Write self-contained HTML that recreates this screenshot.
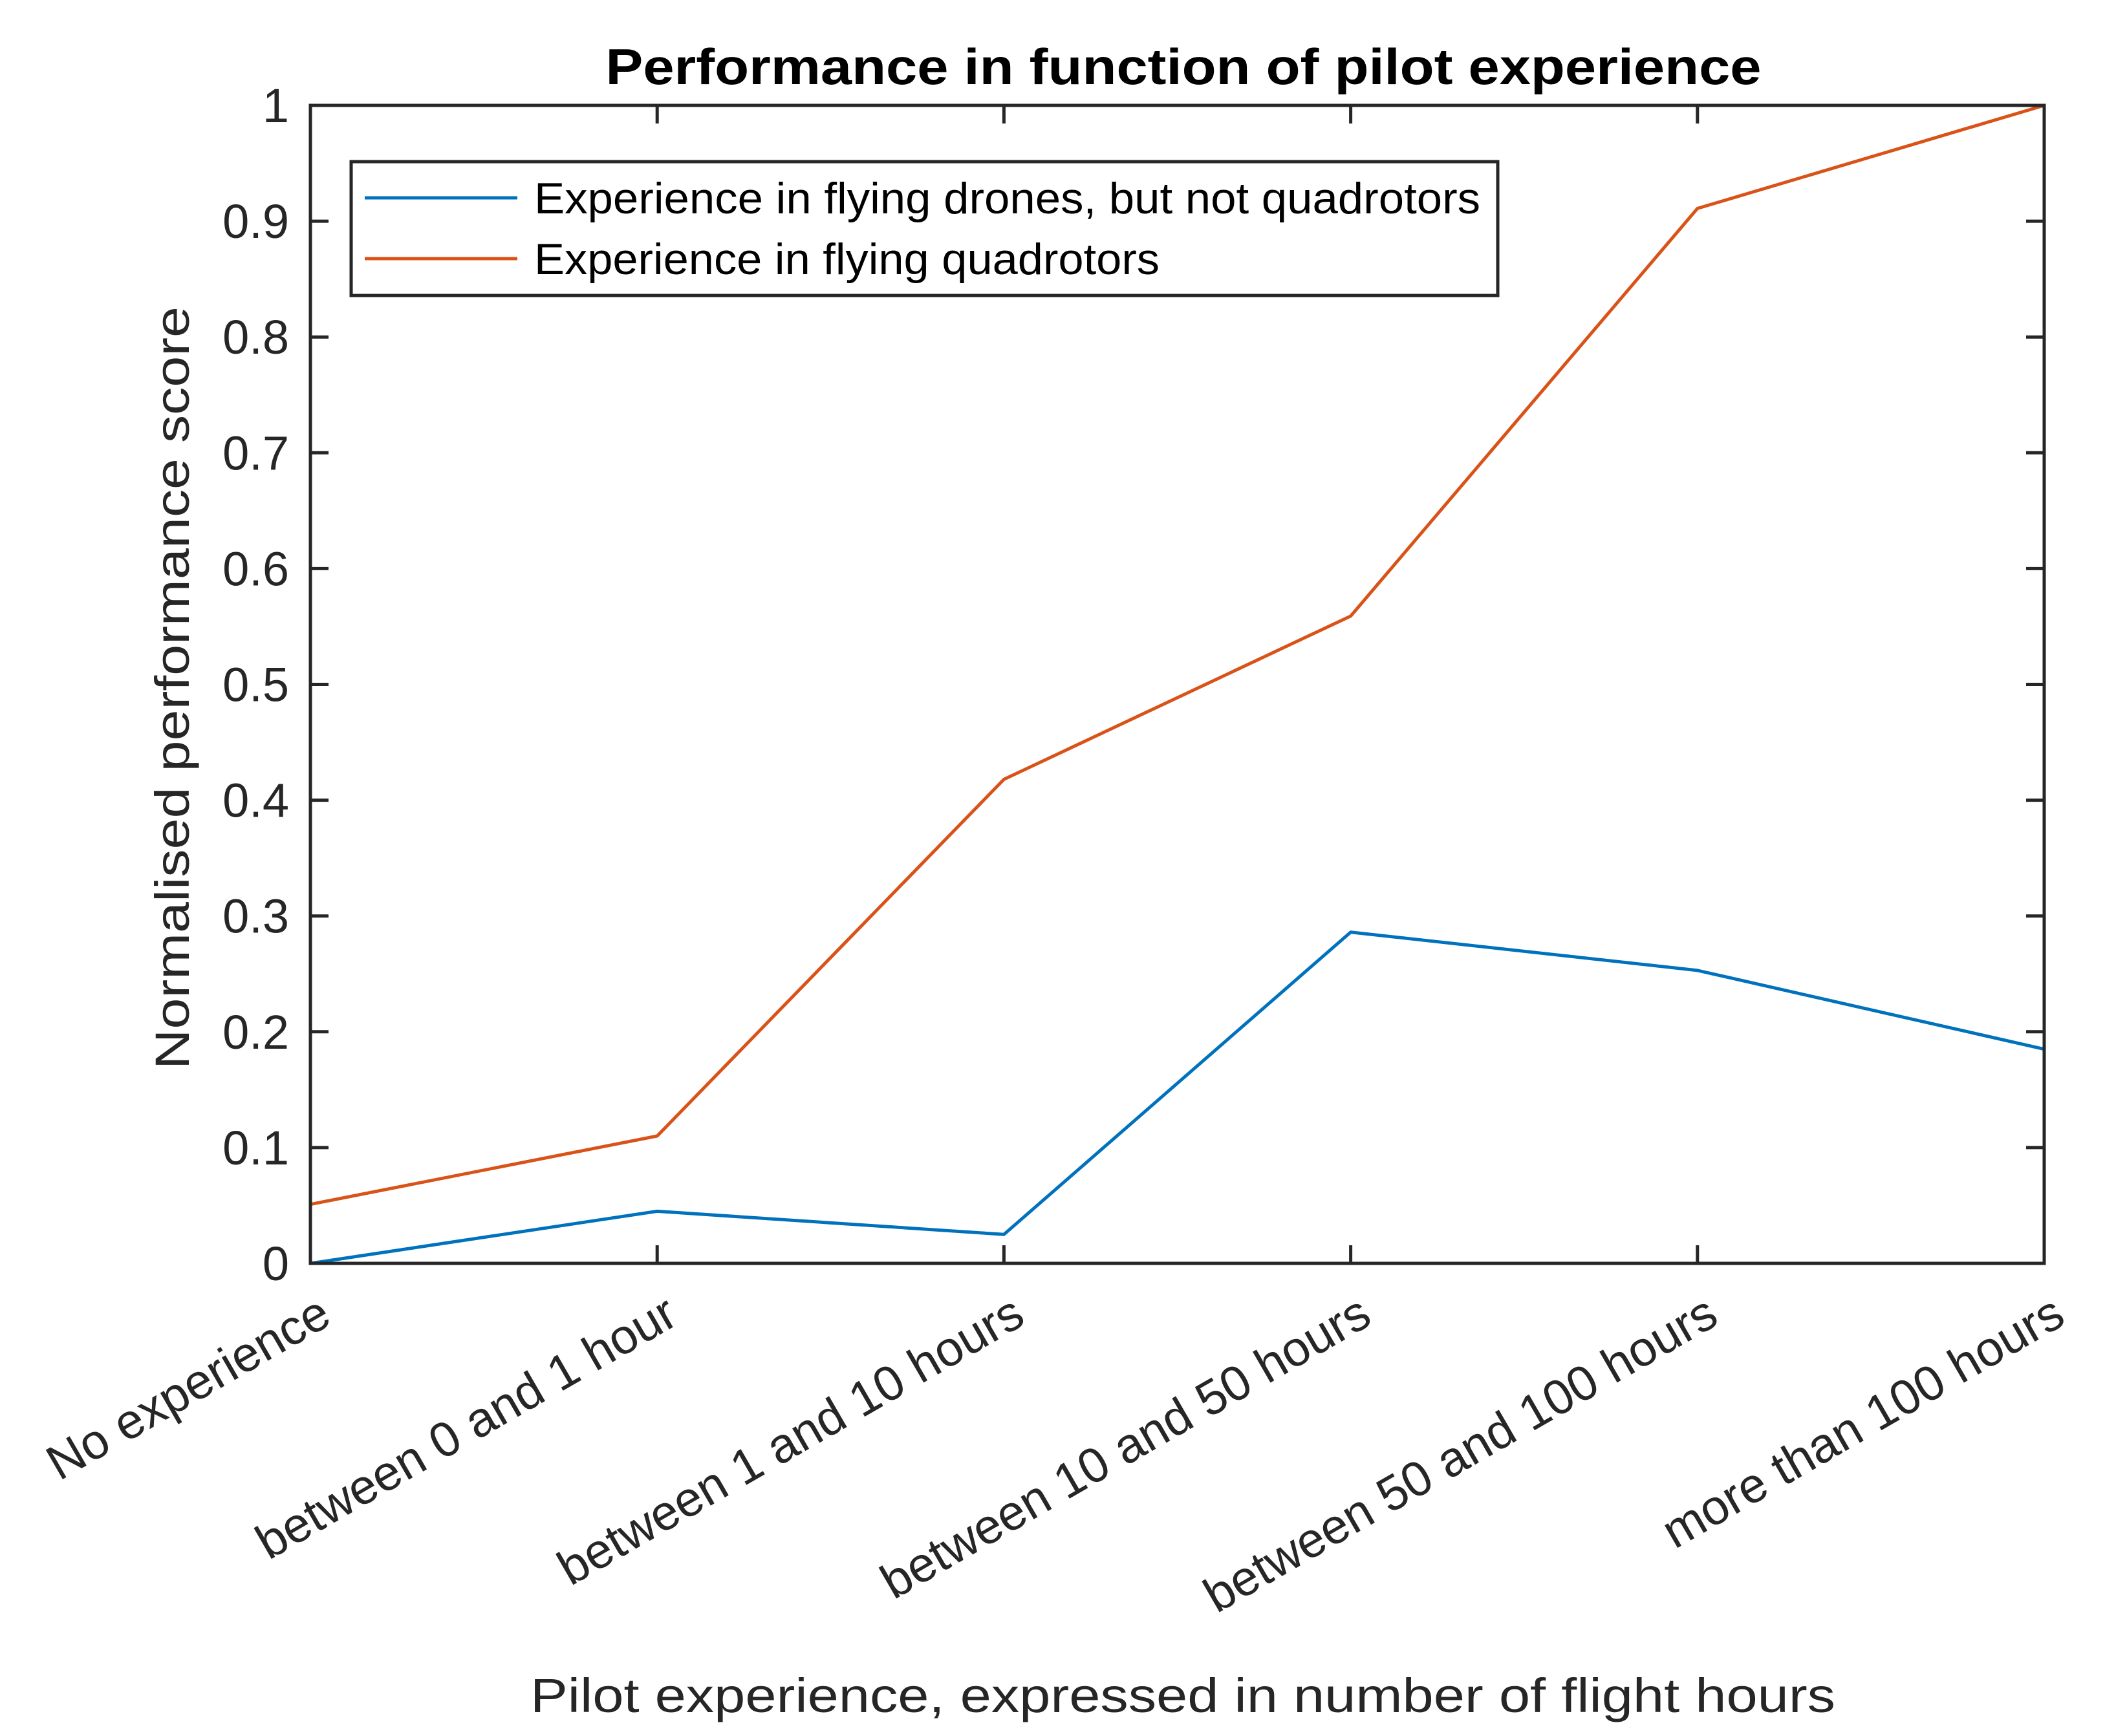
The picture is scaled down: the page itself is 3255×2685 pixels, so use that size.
<!DOCTYPE html>
<html><head><meta charset="utf-8"><style>body{margin:0;background:#fff}svg{display:block}</style></head>
<body>
<svg id="chart" width="3255" height="2685" viewBox="0 0 3255 2685" xmlns="http://www.w3.org/2000/svg" font-family="Liberation Sans, sans-serif">
<rect width="3255" height="2685" fill="#fff"/>
<g id="grid"></g>
<text x="1830" y="130" font-size="78" font-weight="bold" text-anchor="middle" textLength="1787" lengthAdjust="spacingAndGlyphs">Performance in function of pilot experience</text>
<text x="1829" y="2648" font-size="74" fill="#262626" text-anchor="middle" textLength="2018" lengthAdjust="spacingAndGlyphs">Pilot experience, expressed in number of flight hours</text>
<text transform="translate(292,1064) rotate(-90)" font-size="74" fill="#262626" text-anchor="middle" textLength="1180" lengthAdjust="spacingAndGlyphs">Normalised performance score</text>
<g id="series"></g>
<rect x="480" y="163" width="2681" height="1791" fill="none" stroke="#262626" stroke-width="5"/>
<g>
<rect x="543" y="250" width="1773" height="207" fill="#fff" stroke="#262626" stroke-width="5"/>
<line x1="564" y1="306" x2="800" y2="306" stroke="#0072BD" stroke-width="5"/>
<text x="826" y="330" font-size="68" textLength="1463" lengthAdjust="spacingAndGlyphs">Experience in flying drones, but not quadrotors</text>
<line x1="564" y1="400" x2="800" y2="400" stroke="#D95319" stroke-width="5"/>
<text x="826" y="424" font-size="68" textLength="967" lengthAdjust="spacingAndGlyphs">Experience in flying quadrotors</text>
</g>
</svg>
<script>
const categories = ["No experience","between 0 and 1 hour","between 1 and 10 hours","between 10 and 50 hours","between 50 and 100 hours","more than 100 hours"];
const dronesValues = [0, 0.045, 0.025, 0.286, 0.253, 0.185];
const quadValues = [0.051, 0.11, 0.418, 0.559, 0.911, 1.0];
const yTicks = [0,0.1,0.2,0.3,0.4,0.5,0.6,0.7,0.8,0.9,1];
const yTickLabels = ["0","0.1","0.2","0.3","0.4","0.5","0.6","0.7","0.8","0.9","1"];

const NS = "http://www.w3.org/2000/svg";
const L=480,R=3161,T=163,B=1954;
const xScale = i => L + i*(R-L)/(categories.length-1);
const yScale = v => B - v*(B-T);
const g = document.getElementById('grid');
const s = document.getElementById('series');
function mk(tag, attrs, parent){const e=document.createElementNS(NS,tag);for(const k in attrs)e.setAttribute(k,attrs[k]);parent.appendChild(e);return e;}

yTicks.forEach((v,i)=>{
  const y=yScale(v);
  const t1=mk('line',{x1:L,x2:L+28,y1:y,y2:y,stroke:'#262626','stroke-width':5},g);
  
  
  const t2=mk('line',{x1:R-28,x2:R,y1:y,y2:y,stroke:'#262626','stroke-width':5},g);
  
  
  const tx=mk('text',{x:447,y:y+26,'font-size':74,fill:'#262626','text-anchor':'end'},g);
  tx.textContent=yTickLabels[i];
  
  
});
categories.forEach((c,i)=>{
  const x=xScale(i);
  const t1=mk('line',{x1:x,x2:x,y1:B,y2:B-28,stroke:'#262626','stroke-width':5},g);
  
  
  const t2=mk('line',{x1:x,x2:x,y1:T,y2:T+28,stroke:'#262626','stroke-width':5},g);
  
  
  const tx=mk('text',{transform:`translate(${x+36},${B+92}) rotate(-30)`,'font-size':76,fill:'#262626','text-anchor':'end'},g);
  tx.textContent=c;
  
  
});
function line(vals,color,name){
  const p=mk('polyline',{points:vals.map((v,i)=>xScale(i)+','+yScale(v)).join(' '),fill:'none',stroke:color,'stroke-width':5,'stroke-linejoin':'round'},s);
  
  
}
line(dronesValues,'#0072BD','drones-line');
line(quadValues,'#D95319','quadrotors-line');
</script>
</body></html>
